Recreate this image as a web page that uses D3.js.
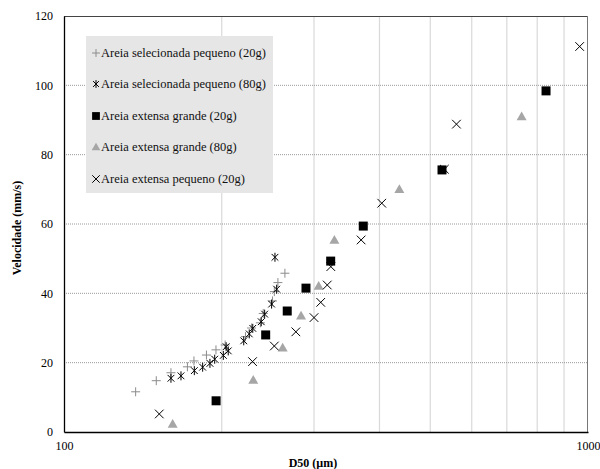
<!DOCTYPE html>
<html><head><meta charset="utf-8">
<script src="https://cdn.jsdelivr.net/npm/d3@7"></script>
<style>body{margin:0;background:#fff}svg{display:block}</style>
</head><body>
<svg id="c" width="600" height="469"></svg>
<script>
const seriesNames = [
  "Areia selecionada pequeno (20g)",
  "Areia selecionada pequeno (80g)",
  "Areia extensa grande (20g)",
  "Areia extensa grande (80g)",
  "Areia extensa pequeno (20g)"
];
const s1x = [137,150,160,172,177,187,195,203,222,228,237,240,250,252,256,264];
const s1y = [11.6,14.8,17.1,18.8,20.5,22.2,23.7,25.1,27.5,30.0,31.5,34.2,37.8,40.5,43.1,45.8];
const s2x = [160,167.2,177.3,183.9,189.9,193.9,201.4,205.8,203.9,220.3,225.7,229.2,237.9,241.5,249,254.6,252.7];
const s2y = [15.5,16.2,17.7,18.7,19.8,21.0,22.1,23.4,24.6,26.3,28.3,29.9,31.8,34.0,36.9,41.2,50.4];
const s3x = [195.1,242.6,266.7,289.6,322.8,372.5,526.5,831.6];
const s3y = [9.0,28.0,34.9,41.5,49.3,59.4,75.6,98.4];
const s4x = [161.2,229.7,261.4,283.4,306.2,328.1,436.5,747];
const s4y = [2.3,15.0,24.3,33.5,42.1,55.4,70.0,91.0];
const s5x = [152,229,252,277,300,309,318,323,369,404,532,561,964];
const s5y = [5.2,20.3,24.8,28.9,33.0,37.4,42.4,47.7,55.4,66.0,75.8,88.8,111.2];
const yTicks = [0,20,40,60,80,100,120];
const xTickLabels = [100,1000];
const xGrid = [200,300,400,500,600,700,800,900];

const svg = d3.select("#c");
const L=64,R=588,T=16,B=432;
const x = d3.scaleLog().domain([100,1000]).range([L,R]);
const y = d3.scaleLinear().domain([0,120]).range([B,T]);
const font = "Liberation Serif, serif";

// grid
svg.append("g").selectAll("line").data(xGrid).join("line")
  .attr("x1",d=>x(d)).attr("x2",d=>x(d)).attr("y1",T).attr("y2",B)
  .attr("stroke","#d9d9d9").attr("stroke-width",1.2);
svg.append("g").selectAll("line").data(yTicks.filter(d=>d>0&&d<120)).join("line")
  .attr("x1",L).attr("x2",R).attr("y1",d=>y(d)).attr("y2",d=>y(d))
  .attr("stroke","#9a9a9a").attr("stroke-width",1).attr("stroke-dasharray","1,1");

// frame
svg.append("line").attr("x1",L).attr("x2",R).attr("y1",T+0.5).attr("y2",T+0.5).attr("stroke","#444");
svg.append("line").attr("x1",R-0.5).attr("x2",R-0.5).attr("y1",T).attr("y2",B).attr("stroke","#777");

// axes
const yAxis = d3.axisLeft(y).tickValues(yTicks).tickSize(0).tickPadding(11);
const gy = svg.append("g").attr("transform",`translate(${L},0)`).call(yAxis);
gy.select(".domain").attr("stroke","#000").attr("stroke-width",1.3);
gy.selectAll("text").attr("font-family",font).attr("font-size",12).attr("fill","#000");

const xAxis = d3.axisBottom(x).tickValues(xTickLabels).tickFormat(d3.format("d")).tickSize(0).tickPadding(9);
const gx = svg.append("g").attr("transform",`translate(0,${B})`).call(xAxis);
gx.select(".domain").attr("stroke","#000").attr("stroke-width",1.3);
gx.selectAll("text").attr("font-family",font).attr("font-size",12).attr("fill","#000");

// titles
svg.append("text").attr("transform","translate(21,228) rotate(-90)").attr("text-anchor","middle")
  .attr("font-family",font).attr("font-weight","bold").attr("font-size",12).text("Velocidade (mm/s)");
svg.append("text").attr("x",313).attr("y",467).attr("text-anchor","middle")
  .attr("font-family",font).attr("font-weight","bold").attr("font-size",12).text("D50 (µm)");

// custom markers
const starType = {draw(ctx,size){const r=Math.sqrt(size)/2;const a=r*0.75;
  ctx.moveTo(0,-r);ctx.lineTo(0,r);ctx.moveTo(-a,-a);ctx.lineTo(a,a);ctx.moveTo(-a,a);ctx.lineTo(a,-a);}};
const plusType = {draw(ctx,size){const r=Math.sqrt(size)/2;ctx.moveTo(-r,0);ctx.lineTo(r,0);ctx.moveTo(0,-r);ctx.lineTo(0,r);}};
const timesType = {draw(ctx,size){const r=Math.sqrt(size)/2*0.72;ctx.moveTo(-r,-r);ctx.lineTo(r,r);ctx.moveTo(-r,r);ctx.lineTo(r,-r);}};
const triType = {draw(ctx,size){const r=Math.sqrt(size)/2;ctx.moveTo(0,-r);ctx.lineTo(r,r*0.75);ctx.lineTo(-r,r*0.75);ctx.closePath();}};
const sqType = {draw(ctx,size){const r=Math.sqrt(size)/2;ctx.rect(-r,-r,2*r,2*r);}};

const styles = [
  {type:plusType,size:81,fill:"none",stroke:"#8c8c8c",sw:1},
  {type:starType,size:81,fill:"none",stroke:"#000",sw:1},
  {type:sqType,size:81,fill:"#000",stroke:"none",sw:0},
  {type:triType,size:100,fill:"#a6a6a6",stroke:"none",sw:0},
  {type:timesType,size:144,fill:"none",stroke:"#000",sw:1}
];
const data = [
  s1x.map((v,i)=>[v,s1y[i]]),
  s2x.map((v,i)=>[v,s2y[i]]),
  s3x.map((v,i)=>[v,s3y[i]]),
  s4x.map((v,i)=>[v,s4y[i]]),
  s5x.map((v,i)=>[v,s5y[i]])
];
[0,1,2,3,4].forEach(k=>{
  const st=styles[k];
  svg.append("g").selectAll("path").data(data[k]).join("path")
    .attr("transform",d=>`translate(${x(d[0])},${y(d[1])})`)
    .attr("d",d3.symbol().type(st.type).size(st.size))
    .attr("fill",st.fill).attr("stroke",st.stroke).attr("stroke-width",st.sw);
});

// legend
const lg = svg.append("g");
lg.append("rect").attr("x",86).attr("y",36).attr("width",187).attr("height",157).attr("fill","#e6e6e6");
const ly = [53,84,116,147,179];
seriesNames.forEach((n,i)=>{
  const st=styles[i];
  lg.append("path").attr("transform",`translate(96,${ly[i]})`)
    .attr("d",d3.symbol().type(st.type).size(st.size*0.75))
    .attr("fill",st.fill).attr("stroke",st.stroke).attr("stroke-width",st.sw);
  lg.append("text").attr("x",101).attr("y",ly[i]+4).attr("font-family",font).attr("font-size",12.5)
    .attr("fill","#111").text(n);
});
</script>
</body></html>
